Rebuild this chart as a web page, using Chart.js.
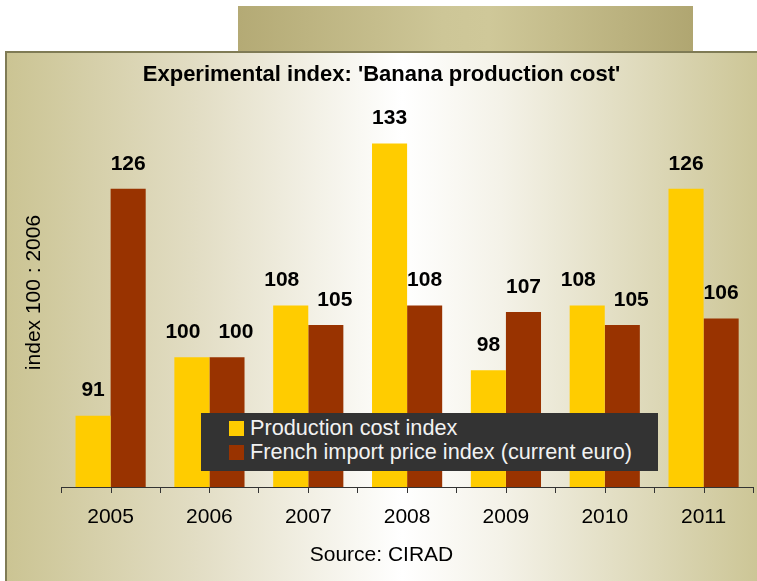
<!DOCTYPE html>
<html>
<head>
<meta charset="utf-8">
<script src="https://cdn.jsdelivr.net/npm/chart.js@4"></script>
<style>
  html, body { margin: 0; padding: 0; background: #ffffff; }
  #wrap { position: relative; width: 757px; height: 581px; overflow: hidden; font-family: "Liberation Sans", Arial, sans-serif; }
  #strip {
    position: absolute; left: 238px; top: 6px; width: 455px; height: 45px;
    background: linear-gradient(to right, #b4aa75 0%, #cdc697 45%, #cfc899 55%, #b0a671 100%);
  }
  #panel {
    position: absolute; left: 5px; top: 51px; width: 760px; height: 540px;
    border-left: 2px solid #7f7b55; border-top: 2px solid #7f7b55;
    background: linear-gradient(to right, #cbc493 0%, #e2ddc4 25%, #ffffff 52%, #f4f2e8 65%, #cbc493 100%);
  }
  #chart { position: absolute; left: 0; top: 0; }
  #legend {
    position: absolute; left: 201px; top: 413px; width: 457px; height: 58px;
    background: #333333; color: #f2f2f2; font-size: 21.7px;
  }
  #legend .item { position: absolute; left: 28px; height: 24px; line-height: 24px; white-space: nowrap; }
  #legend .box { display: inline-block; width: 15px; height: 15px; vertical-align: -1px; margin-right: 6px; }
</style>
</head>
<body>
<div id="wrap">
  <div id="strip"></div>
  <div id="panel"></div>
  <canvas id="chart" width="757" height="581"></canvas>
  <div id="legend"></div>
</div>
<script>
// --- data ---
const years = ['2005', '2006', '2007', '2008', '2009', '2010', '2011'];
const productionCost = [91, 100, 108, 133, 98, 108, 126];
const importPrice = [126, 100, 105, 108, 107, 105, 106];
const seriesNames = ['Production cost index', 'French import price index (current euro)'];
const seriesColors = ['#ffcc00', '#993300'];

const fontFamily = '"Liberation Sans", Arial, sans-serif';

// value labels above each bar; pushes the pair apart when they'd collide
const barLabels = {
    id: 'barLabels',
    afterDatasetsDraw(chart) {
        const ctx = chart.ctx;
        ctx.save();
        ctx.font = 'bold 21px ' + fontFamily;
        ctx.fillStyle = '#000000';
        ctx.textAlign = 'center';
        ctx.textBaseline = 'middle';
        const m0 = chart.getDatasetMeta(0).data;
        const m1 = chart.getDatasetMeta(1).data;
        years.forEach((y, j) => {
            const a = m0[j], b = m1[j];
            const ta = String(productionCost[j]), tb = String(importPrice[j]);
            let xa = a.x, xb = b.x;
            const need = (ctx.measureText(ta).width + ctx.measureText(tb).width) / 2 + 18;
            if (Math.abs(a.y - b.y) < 22 && xb - xa < need) {
                const push = (need - (xb - xa)) / 2;
                xa -= push;
                xb += push;
            }
            ctx.fillText(ta, xa, a.y - 25);
            ctx.fillText(tb, xb, b.y - 25);
        });
        ctx.restore();
    }
};

// small tick marks in the middle of each category (between the two bars)
const midTicks = {
    id: 'midTicks',
    afterDraw(chart) {
        const x = chart.scales.x;
        const ctx = chart.ctx;
        ctx.save();
        ctx.strokeStyle = '#333333';
        ctx.lineWidth = 1;
        years.forEach((y, i) => {
            const px = Math.round(x.getPixelForTick(i)) + 0.5;
            ctx.beginPath();
            ctx.moveTo(px, x.top);
            ctx.lineTo(px, x.top + 6);
            ctx.stroke();
        });
        ctx.restore();
    }
};

const chart = new Chart(document.getElementById('chart'), {
    type: 'bar',
    data: {
        labels: years,
        datasets: [
            { label: seriesNames[0], data: productionCost, backgroundColor: seriesColors[0] },
            { label: seriesNames[1], data: importPrice, backgroundColor: seriesColors[1] }
        ]
    },
    options: {
        responsive: false,
        animation: false,
        categoryPercentage: 0.71,
        barPercentage: 1.0,
        layout: { padding: { left: 10, right: 4, top: 0, bottom: 0 } },
        plugins: {
            legend: { display: false },
            tooltip: { enabled: false },
            title: {
                display: true,
                text: "Experimental index: 'Banana production cost'",
                color: '#000000',
                font: { family: fontFamily, size: 22, weight: 'bold' },
                padding: { top: 62, bottom: 9.6 }
            },
            subtitle: {
                display: true,
                position: 'bottom',
                text: 'Source: CIRAD',
                color: '#000000',
                font: { family: fontFamily, size: 21 },
                padding: { top: 1.4, bottom: 13.4 }
            }
        },
        scales: {
            x: {
                grid: { display: true, drawOnChartArea: false, drawTicks: true, tickLength: 6, color: '#333333', offset: true },
                border: { display: true, color: '#333333' },
                ticks: { color: '#000000', padding: 11.4, font: { family: fontFamily, size: 21 } }
            },
            y: {
                min: 80,
                max: 140,
                grid: { display: false, drawTicks: false },
                border: { display: false },
                ticks: { display: false },
                title: {
                    display: true,
                    text: 'index 100 : 2006',
                    color: '#000000',
                    font: { family: fontFamily, size: 21 },
                    padding: { top: 12, bottom: 14 }
                }
            }
        }
    },
    plugins: [barLabels, midTicks]
});

// legend box drawn over the plot, built from the datasets
const legendEl = document.getElementById('legend');
chart.data.datasets.forEach((ds, i) => {
    const item = document.createElement('div');
    item.className = 'item';
    item.style.top = (3 + i * 24) + 'px';
    const box = document.createElement('span');
    box.className = 'box';
    box.style.background = ds.backgroundColor;
    item.appendChild(box);
    item.appendChild(document.createTextNode(ds.label));
    legendEl.appendChild(item);
});
</script>
</body>
</html>
